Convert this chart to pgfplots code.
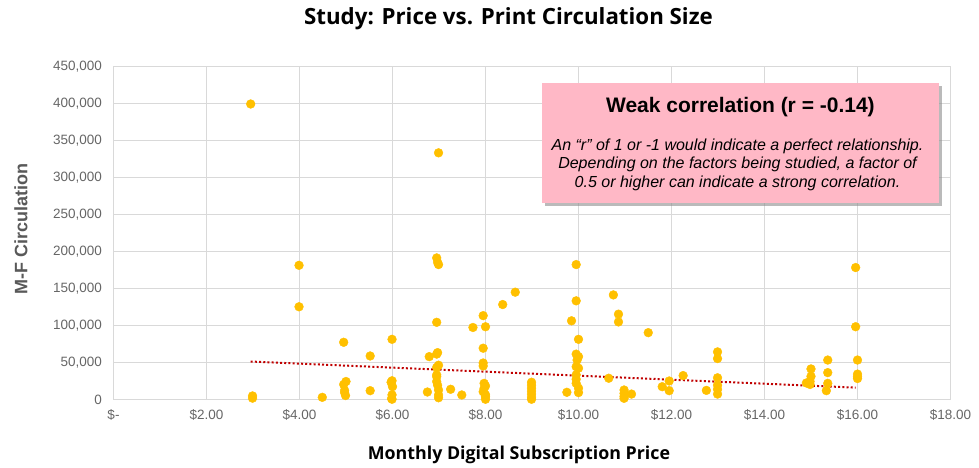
\documentclass[border=0pt]{standalone}
\usepackage{pgfplots}
\pgfplotsset{compat=1.18}
\usepackage{fontspec}
\setmainfont{Liberation Sans}
\newfontfamily\titlef{Open Sans}[UprightFont=* Bold]
\usetikzlibrary{shadows}
\definecolor{dotc}{HTML}{FFC000}
\definecolor{gridc}{HTML}{D9D9D9}
\definecolor{tickc}{HTML}{666666}
\definecolor{trendc}{HTML}{C00000}
\definecolor{boxc}{HTML}{FFB8C6}
\definecolor{ylabc}{HTML}{595959}
\begin{document}
\begin{tikzpicture}[x=1pt,y=1pt]
\useasboundingbox (0,0) rectangle (979,468);
\begin{axis}[
  at={(113.5pt,68pt)}, anchor=south west,
  scale only axis, width=837pt, height=333pt,
  xmin=0, xmax=18, ymin=0, ymax=450,
  xtick={0,2,...,18},
  xticklabels={\$-,\$2.00,\$4.00,\$6.00,\$8.00,\$10.00,\$12.00,\$14.00,\$16.00,\$18.00},
  ytick={0,50,...,450},
  yticklabels={0,{50,000},{100,000},{150,000},{200,000},{250,000},{300,000},{350,000},{400,000},{450,000}},
  grid=major,
  major grid style={gridc, line width=1pt},
  axis line style={gridc, line width=1pt},
  tick style={draw=none},
  tick label style={font=\fontsize{13.5}{13.5}\selectfont, text=tickc},
  xticklabel style={yshift=-6pt},
  yticklabel style={xshift=-8pt},
  clip=false,
]
\addplot[color=dotc, only marks, mark=*, mark size=4.4pt] coordinates {
(2.95,400) (2.99,5.5) (2.99,2.5)
(3.99,182) (3.99,126)
(4.49,3.6)
(4.95,78) (5.0,25) (4.95,21) (4.97,13) (4.97,10) (4.99,6)
(5.52,59.5) (5.52,12.6)
(5.99,82) (5.97,24) (5.99,26) (6.0,18) (5.99,7) (5.98,2) (5.99,1)
(6.75,10.8) (6.79,58.6) (6.95,62) (6.97,64) (6.99,334) (6.95,192) (6.97,186) (6.99,183) (6.95,105)
(6.99,47) (6.95,44) (6.95,34) (6.95,31.5) (6.95,25) (6.97,20) (6.99,13.5) (6.99,6.8) (6.99,3)
(7.25,14.5) (7.49,6.8)
(7.73,98) (7.95,114) (8.0,99) (7.95,70) (7.95,50) (7.95,46)
(7.97,22.5) (8.0,19) (7.97,15.8) (7.95,11.2) (8.0,7) (8.0,4.5) (8.0,1)
(8.37,129) (8.64,145.7)
(8.99,24) (8.99,20) (8.99,16) (8.99,12) (8.99,8) (8.99,4) (8.99,1)
(9.75,10.4) (9.85,107) (9.95,183) (9.95,134) (10.0,82) (9.95,62) (10.0,58.6) (9.97,54)
(9.95,45) (10.0,43) (9.95,34) (9.95,28) (9.95,22.5) (10.0,16) (10.0,10)
(10.65,29.4) (10.75,142) (10.86,116) (10.86,105.5)
(10.98,13.5) (10.98,9) (10.98,5) (10.98,2.3) (11.14,8)
(11.5,91) (11.8,18) (11.95,25.7) (11.95,12.6) (12.25,33) (12.75,13)
(12.99,65) (12.99,56) (12.99,30) (12.99,20) (12.99,14.5) (12.99,8)
(14.9,23) (14.98,21) (14.98,25) (15.0,32) (15.0,42)
(15.36,54) (15.36,37) (15.36,22.5) (15.33,12.6)
(15.96,179) (15.96,99) (16.0,54) (16.0,35) (16.0,31.5) (16.0,29)
};
\addplot[trendc, line width=2pt, dash pattern=on 2pt off 2.2pt] coordinates {(2.95,52) (15.96,16.7)};
\end{axis}
% callout
\fill[boxc, drop shadow={shadow xshift=3pt, shadow yshift=-3pt, fill=black!45, opacity=0.6}] (541.7,265) rectangle (939,385);
\node[font=\bfseries\fontsize{21}{22}\selectfont] at (740.4,361) {Weak correlation (r = -0.14)};
\node[font=\itshape\fontsize{16}{18.4}\selectfont, align=center] at (737.5,303.5) {An “r” of 1 or -1 would indicate a perfect relationship.\\Depending on the factors being studied, a factor of\\0.5 or higher can indicate a strong correlation.};
% titles
\node[font=\titlef\fontsize{22.3}{23}\selectfont] at (508.5,449) {Study: Price vs. Print Circulation Size};
\node[font=\titlef\fontsize{17.8}{18}\selectfont] at (519,13) {Monthly Digital Subscription Price};
\node[font=\bfseries\fontsize{18}{18}\selectfont, text=ylabc, rotate=90] at (21,239) {M-F Circulation};
\end{tikzpicture}
\end{document}
